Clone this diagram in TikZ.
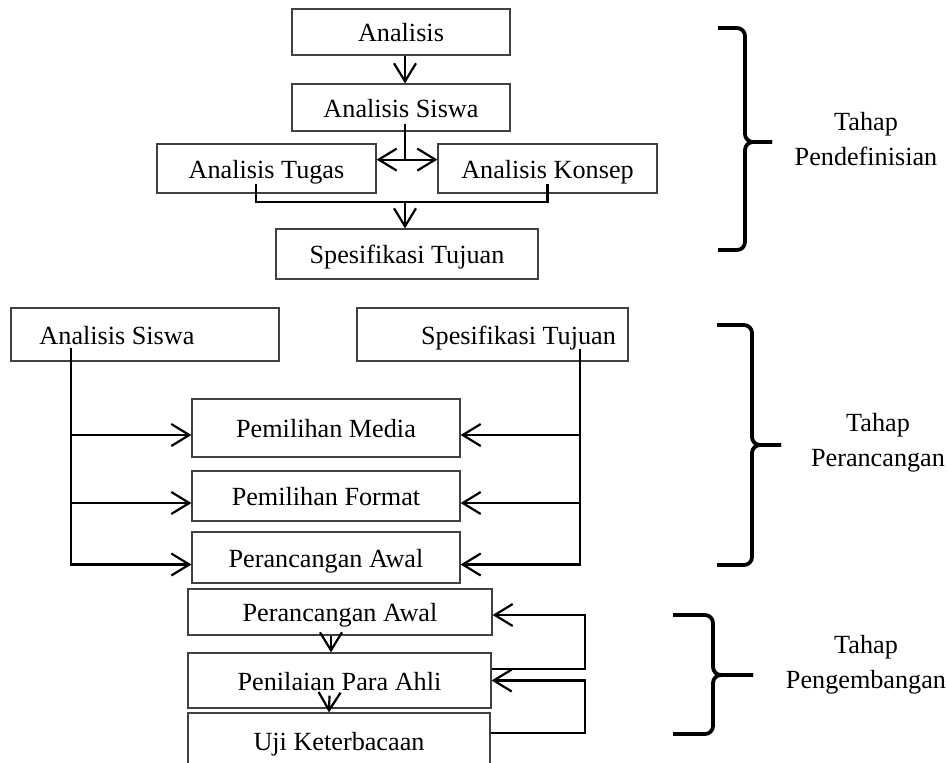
\documentclass[tikz,border=0pt]{standalone}
\usepackage{fontspec}
\setmainfont{Liberation Serif}
\usetikzlibrary{arrows.meta}

\begin{document}
\begin{tikzpicture}[x=0.5pt,y=-0.5pt]
	\tikzstyle{kotak}=[draw=black!75,line width=0.6pt,minimum width=109pt,minimum height=23pt,inner sep=0pt,text height=11.5pt,text depth=2pt,font=\fontsize{13.1}{17.5}\selectfont]
	\tikzstyle{garis}=[line width=1.1pt]
	\tikzstyle{panah}=[garis,-{Straight Barb[length=9pt,width=11pt]}]
	\tikzstyle{kurung}=[line width=1.9pt,rounded corners=4pt]
	\tikzstyle{tahap}=[align=center,font=\fontsize{13.1}{17.5}\selectfont]

	\useasboundingbox (0,0) rectangle (948,762);

	\node [kotak] (analisis) at (401,32) {Analisis};
	\node [kotak, minimum height=23.5pt] (siswa1) at (401,107.5) {Analisis Siswa};
	\node [kotak, minimum width=109.5pt, minimum height=24.5pt] (tugas) at (266.5,168.5) {Analisis Tugas};
	\node [kotak, minimum width=109.5pt, minimum height=24.5pt] (konsep) at (547.5,168.5) {Analisis Konsep};
	\node [kotak, minimum width=131pt, minimum height=25pt] (tujuan1) at (407,254) {Spesifikasi Tujuan};

	\draw [panah] ([xshift=2pt]analisis.south) -- ([xshift=2pt]siswa1.north);
	\draw [garis] ([xshift=2pt,yshift=4pt]siswa1.south) -- ++(0,36) coordinate (cabang);
	\draw [panah] (cabang) -- (cabang -| tugas.east);
	\draw [panah] (cabang) -- (cabang -| konsep.west);
	\draw [garis] ([xshift=-5.25pt,yshift=5pt]tugas.south) -- ++(0,18) coordinate (gabung) -| ([yshift=5pt]konsep.south);
	\draw [panah] ([xshift=-1pt]tujuan1.north |- gabung) -- ([xshift=-1pt]tujuan1.north);

	\node [kotak, minimum width=134pt, minimum height=26.5pt] (siswa2) at (145,334.5) {\hspace*{-28pt}Analisis Siswa};
	\node [kotak, minimum width=135.5pt, minimum height=26.5pt] (tujuan2) at (492.5,334.5) {Spesifikasi Tujuan\hspace*{-26pt}};
	\node [kotak, minimum width=134pt, minimum height=29pt] (media) at (326,428) {Pemilihan Media};
	\node [kotak, minimum width=134pt, minimum height=25pt] (format) at (326,496) {Pemilihan Format};
	\node [kotak, minimum width=134pt, minimum height=25.5pt] (awal1) at (326,557.5) {Perancangan Awal};

	\draw [panah] ([xshift=-37pt,yshift=7pt]siswa2.south) coordinate (kiri) |- ([yshift=-3.5pt]awal1.west);
	\draw [panah] ([xshift=43.75pt,yshift=6.5pt]tujuan2.south) coordinate (kanan) |- ([yshift=-3.5pt]awal1.east);
	\foreach \k in {media,format} {
		\draw [panah] ([yshift=-3.5pt]\k.west -| kiri) -- ([yshift=-3.5pt]\k.west);
		\draw [panah] ([yshift=-3.5pt]\k.east -| kanan) -- ([yshift=-3.5pt]\k.east);
	}

	\node [kotak, minimum width=152pt, minimum height=23pt] (awal2) at (340,612) {Perancangan Awal};
	\node [kotak, minimum width=151.5pt, minimum height=27.5pt] (nilai) at (339.5,680.5) {Penilaian Para Ahli};
	\node [kotak, minimum width=151pt, minimum height=27.5pt] (uji) at (339,740.5) {Uji Keterbacaan};

	\draw [panah] ([xshift=-4.5pt]awal2.south) -- ([xshift=-4.5pt]awal2.south |- nilai.north);
	\draw [panah] ([xshift=-5pt,yshift=6.5pt]nilai.south) -- ([xshift=-5pt]uji.north);
	\draw [panah] ([yshift=5.75pt]nilai.east) -- ++(93,0) |- ([yshift=-1.5pt]awal2.east);
	\draw [panah] ([yshift=3.75pt]uji.east) -- ++(94,0) |- (nilai.east);

	\draw [kurung] (718,28) -- (745,28) -- (745,142) -- (772,142);
	\draw [kurung] (772,142) -- (745,142) -- (745,250) -- (718,250);
	\node [tahap] (tahap1) at (866,139.5) {Tahap\\Pendefinisian};

	\draw [kurung] (717,325) -- (752,325) -- (752,445) -- (781,445);
	\draw [kurung] (781,445) -- (752,445) -- (752,565) -- (717,565);
	\node [tahap] (tahap2) at (878,442.5) {Tahap\\Perancangan};

	\draw [kurung] (673,615) -- (713,615) -- (713,675) -- (753,675);
	\draw [kurung] (753,675) -- (713,675) -- (713,734) -- (673,734);
	\node [tahap] (tahap3) at (866,664.5) {Tahap\\Pengembangan};
\end{tikzpicture}
\end{document}
